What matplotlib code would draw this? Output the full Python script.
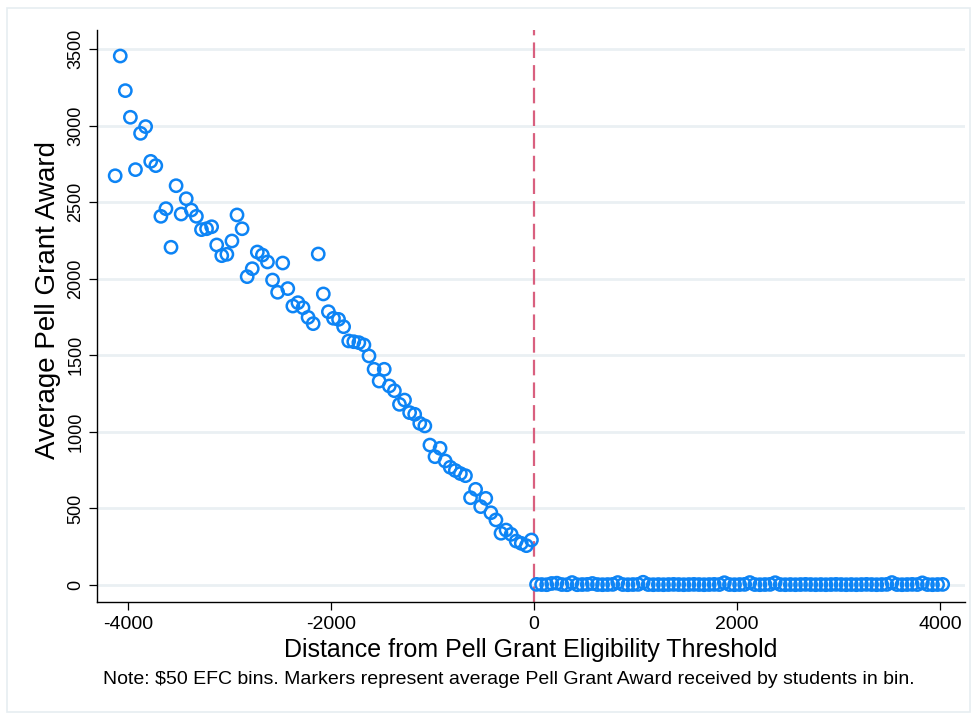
import matplotlib
matplotlib.use("Agg")
import matplotlib.pyplot as plt
import numpy as np
from matplotlib.patches import Rectangle

# ---- data ($50 EFC bins) ----
bin_width = 50
left_start = -4125
left_awards = [
    2673, 3455, 3229, 3055, 2713, 2950, 2994, 2767, 2739, 2408,
    2458, 2206, 2608, 2423, 2523, 2449, 2408, 2321, 2327, 2340,
    2221, 2151, 2160, 2247, 2417, 2327, 2014, 2066, 2175, 2155,
    2110, 1992, 1912, 2103, 1936, 1822, 1844, 1811, 1748, 1707,
    2162, 1901, 1785, 1742, 1735, 1687, 1594, 1589, 1583, 1568,
    1496, 1409, 1332, 1409, 1300, 1269, 1180, 1208, 1126, 1115,
    1056, 1039, 914, 838, 893, 810, 769, 748, 728, 714,
    570, 625, 512, 566, 472, 425, 338, 359, 331, 287,
    272, 257, 294,
]
right_start = 25
right_awards = [
    4, 3, 2, 10, 12, 3, 2, 16, 2, 3,
    4, 10, 3, 2, 3, 4, 16, 3, 2, 3,
    4, 18, 3, 2, 3, 2, 3, 4, 3, 2,
    3, 4, 3, 2, 3, 4, 3, 15, 3, 2,
    3, 4, 16, 3, 2, 3, 4, 15, 3, 2,
    3, 2, 3, 4, 3, 2, 3, 2, 3, 4,
    3, 2, 3, 2, 3, 4, 3, 2, 3, 4,
    16, 3, 2, 3, 4, 3, 14, 3, 2, 3,
    4,
]
left_x = [left_start + bin_width * i for i in range(len(left_awards))]
right_x = [right_start + bin_width * i for i in range(len(right_awards))]
xs = left_x + right_x
ys = left_awards + right_awards

xticks = [-4000, -2000, 0, 2000, 4000]
yticks = [0, 500, 1000, 1500, 2000, 2500, 3000, 3500]
threshold = 0

xlabel = "Distance from Pell Grant Eligibility Threshold"
ylabel = "Average Pell Grant Award"
note = "Note: $50 EFC bins. Markers represent average Pell Grant Award received by students in bin."

# ---- figure ----
W, H = 975, 717
fig = plt.figure(figsize=(W / 100, H / 100), dpi=100)
fig.patch.set_facecolor("white")

# faint outer frame
fig.patches.append(Rectangle((7 / W, 5 / H), (963) / W, (704) / H,
                             transform=fig.transFigure, fill=False,
                             edgecolor="#e6edf1", linewidth=1.2))

left, right = 97 / W, 965 / W
bottom, top = 1 - 602 / H, 1 - 30 / H
ax = fig.add_axes([left, bottom, right - left, top - bottom])

fam = ["Liberation Sans", "DejaVu Sans"]

ax.set_xlim(-4304, 4245)
ax.set_ylim(-111, 3625)

for yt in yticks:
    ax.axhline(yt, color="#eaf0f3", linewidth=2.0, zorder=0)

ax.axvline(threshold, color="#d9607f", linewidth=1.6,
           linestyle=(0, (7, 3.2)), zorder=1)

ax.scatter(xs, ys, s=78, facecolors="none", edgecolors="#0d84f5",
           linewidths=1.8, zorder=3)

for side in ["top", "right"]:
    ax.spines[side].set_visible(False)
for side in ["left", "bottom"]:
    ax.spines[side].set_linewidth(1.0)
    ax.spines[side].set_color("black")

ax.set_xticks(xticks)
ax.set_yticks(yticks)
ax.tick_params(axis="both", direction="out", length=6, width=0.9, color="black")
ax.set_xticklabels([str(v) for v in xticks], fontsize=14, family=fam)
ax.set_yticklabels([str(v) for v in yticks], fontsize=13, family=fam,
                   rotation=90, va="center")
ax.tick_params(axis="x", pad=4)
ax.tick_params(axis="y", pad=3)

ax.set_xlabel(xlabel, fontsize=18, family=fam, labelpad=4)
ax.set_ylabel(ylabel, fontsize=20, family=fam)
ax.yaxis.set_label_coords(-0.041, 0.528)

fig.text(103 / W, 1 - 680 / H, note, fontsize=14, family=fam,
         ha="left", va="center")

fig.savefig("out.png", dpi=100, facecolor="white")
